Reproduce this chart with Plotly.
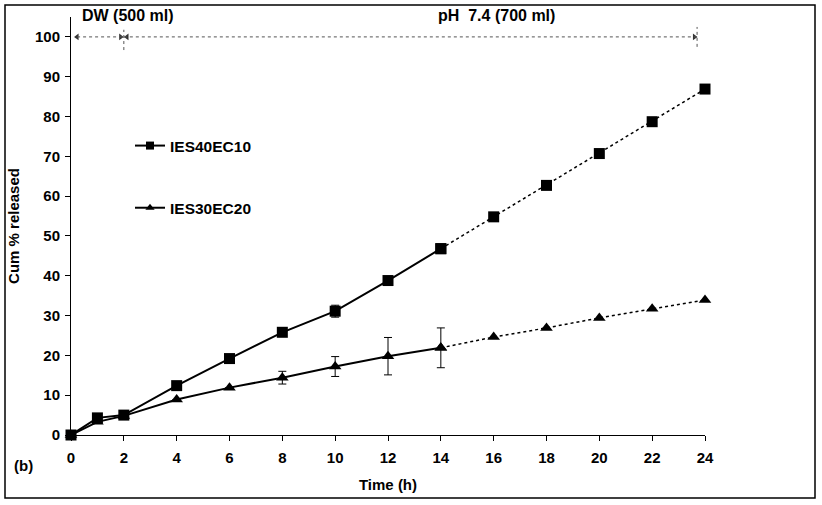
import plotly.graph_objects as go

# ---- data ----
time_solid = [0, 1, 2, 4, 6, 8, 10, 12, 14]
time_dotted = [14, 16, 18, 20, 22, 24]

ies40_solid = [0, 4.3, 5.0, 12.4, 19.2, 25.8, 31.1, 38.8, 46.8]
ies40_solid_err = [0, 0, 0, 0, 0, 1.0, 1.5, 0, 0]
ies40_dotted = [46.8, 54.8, 62.7, 70.7, 78.7, 86.9]

ies30_solid = [0, 3.3, 4.8, 8.9, 11.9, 14.4, 17.2, 19.8, 21.9]
ies30_solid_err = [0, 0, 0, 0, 0, 1.6, 2.5, 4.7, 5.0]
ies30_dotted = [21.9, 24.6, 26.9, 29.4, 31.7, 33.9]

series_names = ["IES40EC10", "IES30EC20"]
phase_labels = ["DW (500 ml)", "pH  7.4 (700 ml)"]
phase_bounds = [0.23, 2.0, 23.7]
phase_y = 100

x_ticks = list(range(0, 25, 2))
y_ticks = list(range(0, 101, 10))

FONT = "Liberation Sans, Arial, sans-serif"
FS = 15

fig = go.Figure()

def add_series(ts, ys, err, td, yd, sym, size, name):
    fig.add_trace(go.Scatter(
        x=ts, y=ys, mode="lines+markers", showlegend=False,
        line=dict(color="black", width=2),
        marker=dict(symbol=sym, size=size, color="black"),
        error_y=dict(type="data", array=err, visible=True, color="black",
                     thickness=1, width=4),
        cliponaxis=False, hoverinfo="skip"))
    fig.add_trace(go.Scatter(
        x=td, y=yd, mode="lines+markers", showlegend=False,
        line=dict(color="black", width=1.5, dash="dot"),
        marker=dict(symbol=sym, size=size, color="black"),
        cliponaxis=False, hoverinfo="skip"))
    # legend-only entry with small marker
    fig.add_trace(go.Scatter(
        x=[None], y=[None], mode="lines+markers", name=name,
        line=dict(color="black", width=2),
        marker=dict(symbol=sym, size=8, color="black"),
        legendgroup=name))

add_series(time_solid, ies40_solid, ies40_solid_err, time_dotted, ies40_dotted,
           "square", 11, series_names[0])
add_series(time_solid, ies30_solid, ies30_solid_err, time_dotted, ies30_dotted,
           "triangle-up", 11, series_names[1])

# phase arrows (dotted)
for a, b in zip(phase_bounds[:-1], phase_bounds[1:]):
    fig.add_shape(type="line", x0=a, x1=b, y0=phase_y, y1=phase_y,
                  xref="x", yref="y", line=dict(color="#555", width=1, dash="dot"))
fig.add_trace(go.Scatter(
    x=[phase_bounds[0], phase_bounds[1] + 0.12], y=[phase_y, phase_y], mode="markers",
    marker=dict(symbol="triangle-left", size=6, color="#333"),
    showlegend=False, hoverinfo="skip", cliponaxis=False))
fig.add_trace(go.Scatter(
    x=[phase_bounds[1] - 0.12, phase_bounds[2] - 0.1], y=[phase_y, phase_y], mode="markers",
    marker=dict(symbol="triangle-right", size=6, color="#333"),
    showlegend=False, hoverinfo="skip", cliponaxis=False))
for xb, (lo, hi) in zip(phase_bounds[1:], [(96.7, 101.8), (97.5, 102.5)]):
    fig.add_shape(type="line", x0=xb, x1=xb, y0=lo, y1=hi, xref="x", yref="y",
                  line=dict(color="#555", width=1, dash="dot"))

# phase labels
fig.add_annotation(text="<b>" + phase_labels[0] + "</b>", x=(80 - 71) / 634, y=(435 - 15) / 418,
                   xref="paper", yref="paper", xanchor="left", yanchor="middle",
                   showarrow=False, font=dict(family=FONT, size=16, color="black"))
fig.add_annotation(text="<b>" + phase_labels[1] + "</b>", x=(496 - 71) / 634, y=(435 - 15) / 418,
                   xref="paper", yref="paper", xanchor="center", yanchor="middle",
                   showarrow=False, font=dict(family=FONT, size=16, color="black"))
fig.add_annotation(text="<b>(b)</b>", x=(12 - 71) / 634, y=(435 - 466) / 418,
                   xref="paper", yref="paper", xanchor="left", yanchor="middle",
                   showarrow=False, font=dict(family=FONT, size=FS, color="black"))

# outer border
fig.add_shape(type="rect", xref="paper", yref="paper",
              x0=(5 - 71) / 634, x1=(815 - 71) / 634,
              y0=(435 - 498) / 418, y1=(435 - 5) / 418,
              line=dict(color="black", width=1.5), fillcolor="rgba(0,0,0,0)")

fig.update_layout(
    width=822, height=505,
    margin=dict(l=71, r=117, t=17, b=70, autoexpand=False),
    paper_bgcolor="white", plot_bgcolor="white",
    font=dict(family=FONT, size=FS, color="black"),
    legend=dict(x=(130 - 71) / 634, y=(435 - 129) / 418, xanchor="left", yanchor="top",
                bgcolor="rgba(0,0,0,0)", tracegroupgap=39,
                font=dict(family=FONT, size=15.5, color="black", weight="bold"),
                itemwidth=30),
    xaxis=dict(range=[0, 24], tickvals=x_ticks, showline=True, linecolor="black",
               linewidth=1, ticks="outside", ticklen=5, tickcolor="black",
               showgrid=False, zeroline=False, ticklabelstandoff=4,
               tickfont=dict(family=FONT, size=FS, weight="bold"),
               title=dict(text="<b>Time (h)</b>", font=dict(family=FONT, size=FS), standoff=14)),
    yaxis=dict(range=[0, 105], tickvals=y_ticks, showline=True, linecolor="black",
               linewidth=1, ticks="outside", ticklen=5, tickcolor="black",
               showgrid=False, zeroline=False, ticklabelstandoff=2,
               tickfont=dict(family=FONT, size=FS, weight="bold"),
               title=dict(text="<b>Cum % released</b>", font=dict(family=FONT, size=FS), standoff=11)),
)

fig.write_html("out.html", config={"displayModeBar": False},
               post_script="document.body.style.margin='0px';")
